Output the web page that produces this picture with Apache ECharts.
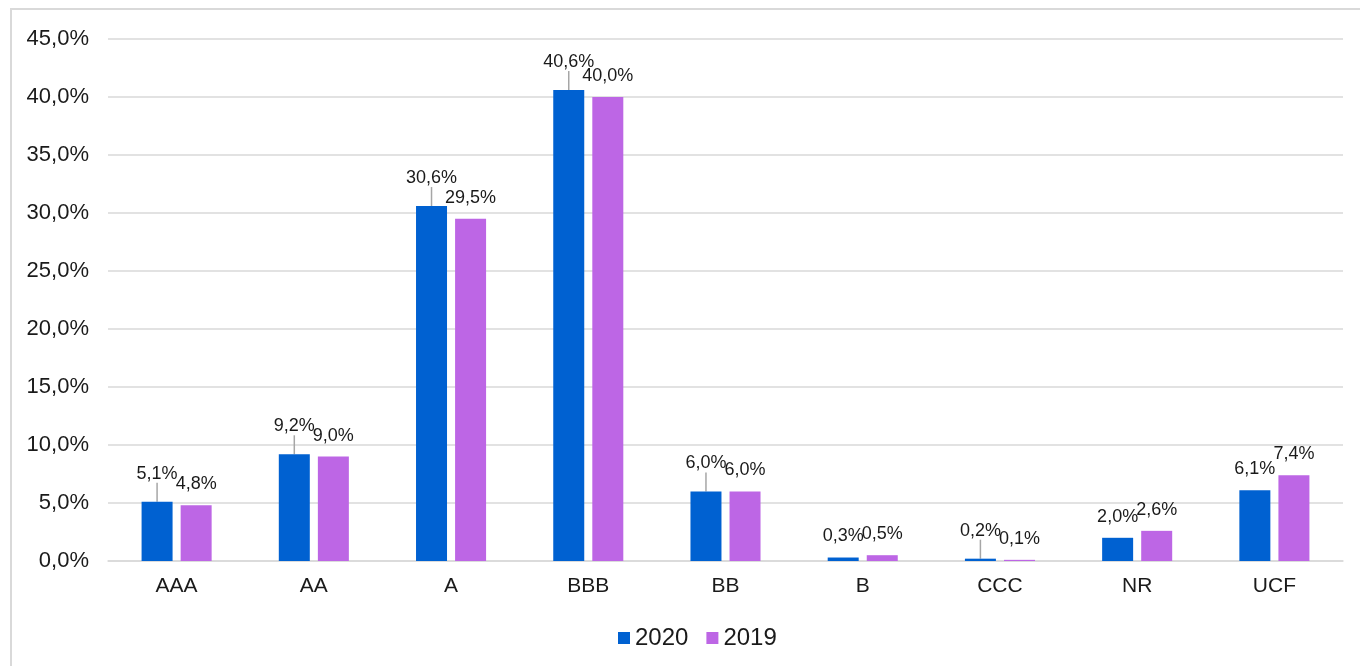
<!DOCTYPE html>
<html>
<head>
<meta charset="utf-8">
<script src="https://cdn.jsdelivr.net/npm/echarts@6/dist/echarts.min.js"></script>
<style>
html,body{margin:0;padding:0;background:#fff;}
#chart{width:1360px;height:666px;}
</style>
</head>
<body>
<div id="chart"></div>
<script>
const categories = ['AAA','AA','A','BBB','BB','B','CCC','NR','UCF'];
const values2020 = [5.1, 9.2, 30.6, 40.6, 6.0, 0.3, 0.2, 2.0, 6.1];
const values2019 = [4.8, 9.0, 29.5, 40.0, 6.0, 0.5, 0.1, 2.6, 7.4];
const leader2020 = [true, true, true, true, true, false, true, false, false];
const seriesNames = ['2020', '2019'];

const fmt = v => v.toFixed(1).replace('.', ',') + '%';
const FONT = 'Liberation Sans, Arial, sans-serif';
const TXT = '#1a1a1a';

const data2020 = values2020.map((v, i) => ({value: v, labelLine: {show: leader2020[i]}}));

const chart = echarts.init(document.getElementById('chart'), null, {renderer: 'canvas'});
chart.setOption({
  animation: false,
  backgroundColor: '#fff',
  textStyle: {fontFamily: FONT},
  graphic: [{
    type: 'rect', silent: true, z: -10,
    shape: {x: 11, y: 9, width: 1400, height: 700},
    style: {fill: 'none', stroke: '#d9d9d9', lineWidth: 2}
  }],
  grid: {left: 108, right: 17, top: 39, bottom: 105, containLabel: false},
  legend: {
    data: seriesNames,
    top: 621,
    left: 613,
    icon: 'rect',
    itemWidth: 12, itemHeight: 12,
    itemGap: 18,
    textStyle: {fontSize: 24, color: TXT, fontFamily: FONT}
  },
  xAxis: {
    type: 'category',
    data: categories,
    axisLine: {show: true, lineStyle: {color: '#d9d9d9', width: 1.5}},
    axisTick: {show: false},
    axisLabel: {fontSize: 21, color: TXT, margin: 15, fontFamily: FONT}
  },
  yAxis: {
    type: 'value',
    min: 0, max: 45, interval: 5,
    axisLine: {show: false},
    axisTick: {show: false},
    splitLine: {lineStyle: {color: '#d9d9d9', width: 1.5}},
    axisLabel: {fontSize: 22, color: TXT, margin: 19, fontFamily: FONT, formatter: v => fmt(v)}
  },
  series: [
    {
      name: seriesNames[0], type: 'bar',
      data: data2020,
      barWidth: 31, barGap: '26%',
      itemStyle: {color: '#0061D1'},
      label: {show: true, position: 'top', distance: 12, fontSize: 18, color: TXT, fontFamily: FONT, formatter: p => fmt(p.value)},
      labelLayout: function (p) { if (leader2020[p.dataIndex]) { return {dy: -7}; } return undefined; },
      labelLine: {show: true, lineStyle: {color: '#a6a6a6', width: 1.5}}
    },
    {
      name: seriesNames[1], type: 'bar',
      data: values2019,
      barWidth: 31,
      itemStyle: {color: '#BD66E5'},
      label: {show: true, position: 'top', distance: 12, fontSize: 18, color: TXT, fontFamily: FONT, formatter: p => fmt(p.value)}
    }
  ]
});
</script>
</body>
</html>
